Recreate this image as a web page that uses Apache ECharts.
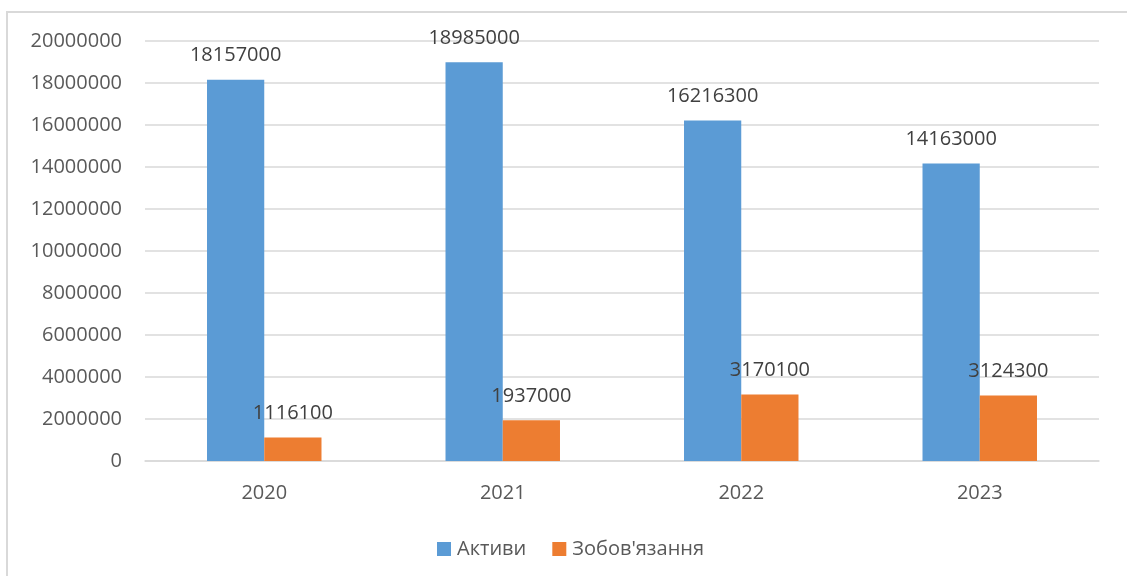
<!DOCTYPE html>
<html>
<head>
<meta charset="utf-8">
<script src="https://cdn.jsdelivr.net/npm/echarts@6/dist/echarts.min.js"></script>
<style>
  html, body { margin: 0; padding: 0; background: #fff; }
  #chart { width: 1127px; height: 576px; }
</style>
</head>
<body>
<div id="chart"></div>
<script>
// Years on the category axis
const years = ['2020', '2021', '2022', '2023'];
// Assets per year
const assets = [18157000, 18985000, 16216300, 14163000];
// Liabilities per year
const liabilities = [1116100, 1937000, 3170100, 3124300];
// Series names shown in the legend
const seriesNames = ['Активи', 'Зобов\'язання'];

const FONT = '"Open Sans", "Noto Sans", sans-serif';

const chart = echarts.init(document.getElementById('chart'), null, { renderer: 'canvas' });

const labelStyle = {
  show: true,
  position: 'top',
  distance: 14,
  color: '#404040',
  fontSize: 20,
  fontFamily: FONT
};

chart.setOption({
  animation: false,
  backgroundColor: '#ffffff',
  graphic: [{
    type: 'rect',
    shape: { x: 7, y: 12, width: 1300, height: 800 },
    style: { fill: 'none', stroke: '#d9d9d9', lineWidth: 2 },
    silent: true,
    z: -10
  }],
  grid: { left: 145, right: 28, top: 41, bottom: 115, containLabel: false },
  legend: {
    left: 437,
    top: 539,
    padding: 0,
    itemWidth: 14,
    itemHeight: 14,
    itemGap: 26,
    icon: 'rect',
    textStyle: { color: '#595959', fontSize: 20, fontFamily: FONT, padding: [0, 0, 0, 1] },
    data: seriesNames
  },
  xAxis: {
    type: 'category',
    data: years,
    axisLine: { show: true, lineStyle: { color: '#d9d9d9', width: 1.5 } },
    axisTick: { show: false },
    axisLabel: { color: '#595959', fontSize: 20, fontFamily: FONT, margin: 22 }
  },
  yAxis: {
    type: 'value',
    min: 0,
    max: 20000000,
    interval: 2000000,
    axisLine: { show: false },
    axisTick: { show: false },
    axisLabel: {
      color: '#595959',
      fontSize: 20,
      fontFamily: FONT,
      margin: 23,
      formatter: v => String(v)
    },
    splitLine: { lineStyle: { color: '#d9d9d9', width: 1.5 } }
  },
  series: [
    {
      name: seriesNames[0],
      type: 'bar',
      data: assets,
      itemStyle: { color: '#5b9bd5' },
      barGap: '0%',
      barCategoryGap: '52%',
      label: labelStyle
    },
    {
      name: seriesNames[1],
      type: 'bar',
      data: liabilities,
      itemStyle: { color: '#ed7d31' },
      barGap: '0%',
      barCategoryGap: '52%',
      label: labelStyle
    }
  ]
});
</script>
</body>
</html>
